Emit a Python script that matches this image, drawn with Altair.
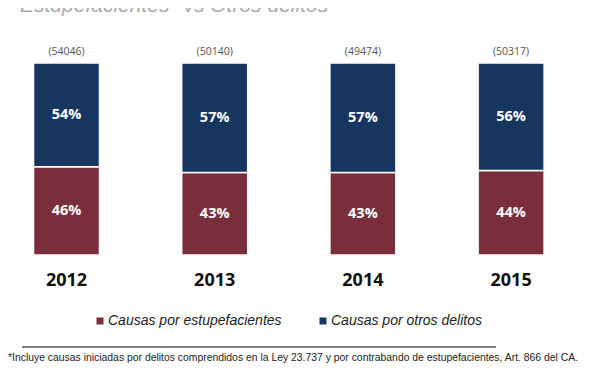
import altair as alt
import pandas as pd

years = ["2012", "2013", "2014", "2015"]
pct_estup = [46, 43, 43, 44]
pct_otros = [54, 57, 57, 56]
totals = [54046, 50140, 49474, 50317]
categories = ["Causas por estupefacientes", "Causas por otros delitos"]
colors = ["#7A2E3C", "#17365F"]
title_text = "Estupefacientes* vs Otros delitos"
footnote = ("*Incluye causas iniciadas por delitos comprendidos en la Ley 23.737 y por "
            "contrabando de estupefacientes, Art. 866 del CA.")

rows = []
for i, y in enumerate(years):
    rows.append({"year": y, "cat": categories[0], "pct": pct_estup[i], "order": 0})
    rows.append({"year": y, "cat": categories[1], "pct": pct_otros[i], "order": 1})
df = pd.DataFrame(rows)
df_tot = pd.DataFrame({"year": years, "total": totals})

xenc = alt.X("year:N", sort=years, axis=None,
             scale=alt.Scale(range=[25.5, 536.1], paddingInner=0.5547, paddingOuter=0))
yscale = alt.Scale(domain=[0, 100], range=[247, 55])

bars = alt.Chart(df).mark_bar(stroke="white", strokeWidth=1.5).encode(
    x=xenc,
    y=alt.Y("pct:Q", stack="zero", scale=yscale, axis=None),
    color=alt.Color("cat:N", scale=alt.Scale(domain=categories, range=colors),
                    legend=alt.Legend(title=None, orient="none", legendX=85, legendY=306,
                                      direction="horizontal", symbolType="square",
                                      symbolSize=49, symbolStrokeWidth=0,
                                      labelFontSize=14, labelFont="Liberation Sans",
                                      labelFontStyle="italic", labelColor="#222",
                                      labelLimit=0, columnPadding=34, labelOffset=1)),
    order=alt.Order("order:Q"),
)

pct_labels = alt.Chart(df).transform_stack(
    stack="pct", as_=["y0", "y1"], groupby=["year"], sort=[alt.SortField("order")]
).transform_calculate(
    mid="(datum.y0 + datum.y1) / 2", lab="datum.pct + '%'"
).mark_text(font="Open Sans", fontWeight="bold", fontSize=14.5, color="white").encode(
    x=xenc, y=alt.Y("mid:Q", scale=yscale, axis=None), text="lab:N"
)

tot_labels = alt.Chart(df_tot).transform_calculate(
    lab="'(' + datum.total + ')'"
).mark_text(font="Open Sans", fontSize=10.5, color="#555555", baseline="middle").encode(
    x=xenc, y=alt.value(44), text="lab:N"
)

year_labels = alt.Chart(df_tot).mark_text(
    font="Open Sans", fontWeight="bold", fontSize=18, color="#111111", baseline="middle"
).encode(x=xenc, y=alt.value(273), text="year:N")

title = alt.Chart(pd.DataFrame({"t": [title_text]})).mark_text(
    font="Liberation Sans", fontStyle="italic", fontSize=21, color="#aaaaaa",
    align="left", baseline="alphabetic"
).encode(x=alt.value(12), y=alt.value(4), text="t:N")

rule = alt.Chart(pd.DataFrame({"a": [0]})).mark_rule(color="#808080", strokeWidth=2).encode(
    x=alt.value(14), x2=alt.value(488), y=alt.value(339)
)

foot = alt.Chart(pd.DataFrame({"t": [footnote]})).mark_text(
    font="Liberation Sans", fontSize=10.4, color="#222222", align="left", baseline="alphabetic"
).encode(x=alt.value(0), y=alt.value(352.5), text="t:N")

chart = alt.layer(bars, pct_labels, tot_labels, year_labels, title, rule, foot).properties(
    width=575, height=356, autosize=alt.AutoSizeParams(type="none"), padding=0
).configure_view(stroke=None)

chart.save("out.html", embed_options={"renderer": "svg", "actions": False})
